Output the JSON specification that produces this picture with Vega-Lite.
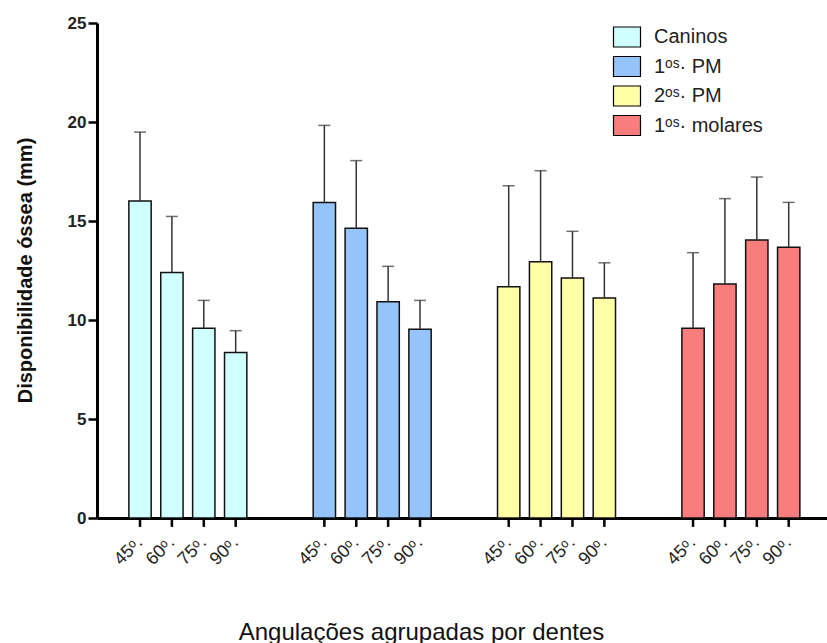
{
  "$schema": "https://vega.github.io/schema/vega-lite/v6.json",
  "width": 730,
  "height": 495,
  "autosize": {"type": "none"},
  "padding": {"left": 97, "top": 23, "right": 0, "bottom": 125},
  "background": "white",
  "config": {"view": {"stroke": null}, "font": "Liberation Sans"},
  "data": {
    "values": [
      {"dente": "Caninos", "ang": "45ᵒ.", "media": 16.01, "sup": 19.49},
      {"dente": "Caninos", "ang": "60ᵒ.", "media": 12.40, "sup": 15.23},
      {"dente": "Caninos", "ang": "75ᵒ.", "media": 9.58, "sup": 10.99},
      {"dente": "Caninos", "ang": "90ᵒ.", "media": 8.36, "sup": 9.46},
      {"dente": "1ᵒˢ· PM", "ang": "45ᵒ.", "media": 15.94, "sup": 19.83},
      {"dente": "1ᵒˢ· PM", "ang": "60ᵒ.", "media": 14.63, "sup": 18.05},
      {"dente": "1ᵒˢ· PM", "ang": "75ᵒ.", "media": 10.92, "sup": 12.71},
      {"dente": "1ᵒˢ· PM", "ang": "90ᵒ.", "media": 9.53, "sup": 10.99},
      {"dente": "2ᵒˢ· PM", "ang": "45ᵒ.", "media": 11.68, "sup": 16.78},
      {"dente": "2ᵒˢ· PM", "ang": "60ᵒ.", "media": 12.94, "sup": 17.54},
      {"dente": "2ᵒˢ· PM", "ang": "75ᵒ.", "media": 12.12, "sup": 14.48},
      {"dente": "2ᵒˢ· PM", "ang": "90ᵒ.", "media": 11.11, "sup": 12.89},
      {"dente": "1ᵒˢ· molares", "ang": "45ᵒ.", "media": 9.58, "sup": 13.40},
      {"dente": "1ᵒˢ· molares", "ang": "60ᵒ.", "media": 11.82, "sup": 16.13},
      {"dente": "1ᵒˢ· molares", "ang": "75ᵒ.", "media": 14.04, "sup": 17.22},
      {"dente": "1ᵒˢ· molares", "ang": "90ᵒ.", "media": 13.67, "sup": 15.94}
    ]
  },
  "encoding": {
    "x": {
      "field": "dente",
      "type": "nominal",
      "sort": ["Caninos", "1ᵒˢ· PM", "2ᵒˢ· PM", "1ᵒˢ· molares"],
      "scale": {"paddingInner": 0.36, "paddingOuter": 0.16, "align": 0.54},
      "axis": {
        "labels": false,
        "ticks": false,
        "domainColor": "black",
        "domainWidth": 3,
        "title": "Angulações agrupadas por dentes",
        "titleFontSize": 24,
        "titleFontWeight": "normal",
        "titleColor": "#111",
        "titleX": 324,
        "titleY": 121,
        "titleBaseline": "alphabetic"
      }
    },
    "xOffset": {
      "field": "ang",
      "type": "nominal",
      "scale": {"paddingInner": 0.3, "paddingOuter": 0}
    }
  },
  "layer": [
    {
      "mark": {"type": "bar", "stroke": "#111", "strokeWidth": 1.5},
      "encoding": {
        "y": {
          "field": "media",
          "type": "quantitative",
          "scale": {"domain": [0, 25], "nice": false},
          "axis": {
            "values": [0, 5, 10, 15, 20, 25],
            "grid": false,
            "domainColor": "black",
            "domainWidth": 3,
            "tickColor": "black",
            "tickWidth": 2.5,
            "tickSize": 9,
            "labelFontSize": 17,
            "labelFontWeight": "bold",
            "labelColor": "#222",
            "labelPadding": 2,
            "title": "Disponibilidade óssea (mm)",
            "titleFontSize": 20,
            "titleFontWeight": "bold",
            "titleColor": "#111",
            "titleX": -66,
            "titleY": 247,
            "titleAngle": -90,
            "titleAlign": "center",
            "titleBaseline": "alphabetic"
          }
        },
        "color": {
          "field": "dente",
          "type": "nominal",
          "scale": {
            "domain": ["Caninos", "1ᵒˢ· PM", "2ᵒˢ· PM", "1ᵒˢ· molares"],
            "range": ["#CFFFFF", "#94C4FA", "#FFFFA6", "#FA7D7D"]
          },
          "legend": {
            "orient": "none",
            "legendX": 519,
            "legendY": 3,
            "title": null,
            "symbolType": "M-1.35,-1H1.35V1H-1.35Z",
            "symbolSize": 400,
            "symbolStrokeColor": "black",
            "symbolStrokeWidth": 1.2,
            "symbolOpacity": 1,
            "labelFontSize": 20,
            "labelColor": "#222",
            "labelOffset": 16,
            "rowPadding": 3.5
          }
        }
      }
    },
    {
      "mark": {"type": "rule", "color": "#333", "strokeWidth": 1.5},
      "encoding": {
        "y": {"field": "media", "type": "quantitative"},
        "y2": {"field": "sup"}
      }
    },
    {
      "mark": {"type": "tick", "color": "#333", "thickness": 1.5, "size": 12},
      "encoding": {
        "y": {"field": "sup", "type": "quantitative"}
      }
    },
    {
      "mark": {"type": "rule", "color": "black", "strokeWidth": 2.5},
      "encoding": {
        "y": {"datum": 0},
        "y2": {"datum": -0.45}
      }
    },
    {
      "mark": {"type": "text", "angle": -45, "align": "right", "baseline": "middle", "fontSize": 18, "color": "#222", "yOffset": 22, "xOffset": 2},
      "encoding": {
        "y": {"datum": 0},
        "text": {"field": "ang"}
      }
    }
  ]
}
